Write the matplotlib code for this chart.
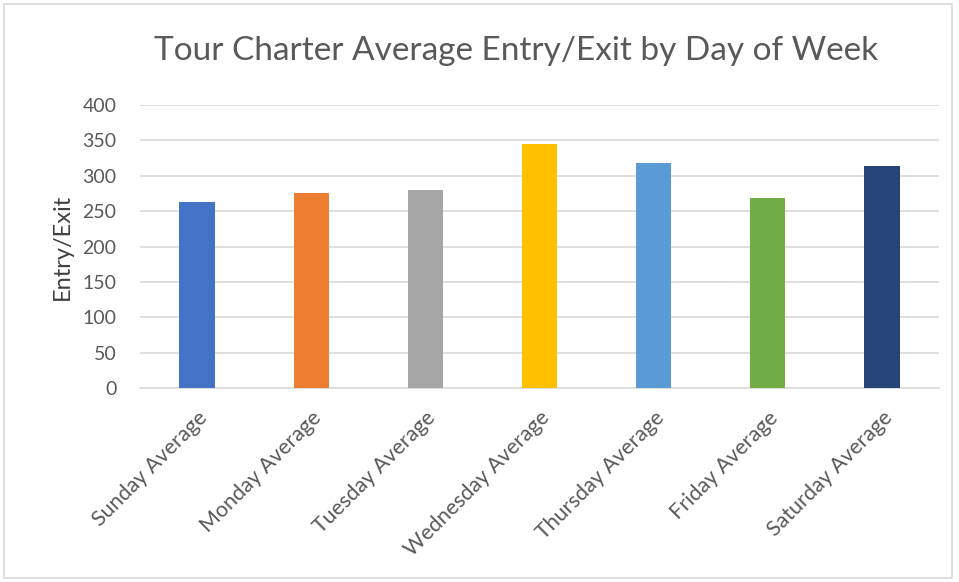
import matplotlib.pyplot as plt
from matplotlib.patches import Rectangle

days = ['Sunday Average', 'Monday Average', 'Tuesday Average', 'Wednesday Average',
        'Thursday Average', 'Friday Average', 'Saturday Average']
values = [263, 275, 280, 345, 318, 268, 314]
colors = ['#4472c4', '#ed7d31', '#a5a5a5', '#ffc000', '#5b9bd5', '#70ad47', '#264478']
yticks = [0, 50, 100, 150, 200, 250, 300, 350, 400]

plt.rcParams['font.family'] = ['Lato', 'DejaVu Sans']

fig = plt.figure(figsize=(9.59, 5.82), dpi=100)
ax = fig.add_axes([140 / 959, 1 - 388 / 582, 799 / 959, 283 / 582])

x = range(len(days))
ax.bar(x, values, width=0.31, color=colors, zorder=3)

ax.set_xlim(-0.5, len(days) - 0.5)
ax.set_ylim(0, 400)
ax.set_yticks(yticks)
ax.set_xticks(list(x))
ax.set_xticklabels(days, rotation=45, ha='right', rotation_mode='anchor',
                   fontsize=15.5, color='#595959')
ax.tick_params(axis='y', labelsize=14, labelcolor='#595959', length=0, pad=17)
ax.tick_params(axis='x', length=0, pad=14)
ax.grid(axis='y', color='#d9d9d9', linewidth=1.2, zorder=0)
for s in ['top', 'right', 'left']:
    ax.spines[s].set_visible(False)
ax.spines['bottom'].set_color('#d9d9d9')
ax.spines['bottom'].set_linewidth(1.2)

ax.set_ylabel('Entry/Exit', fontsize=17, color='#404040', labelpad=7)
fig.text(0.538, 1 - 51 / 582, 'Tour Charter Average Entry/Exit by Day of Week',
         ha='center', va='center', fontsize=24, color='#595959')

fig.patches.append(Rectangle((4 / 959, 4 / 582), 948 / 959, 574 / 582,
                             transform=fig.transFigure, fill=False,
                             edgecolor='#d9d9d9', linewidth=1.2))

fig.savefig('out.png', dpi=100)
